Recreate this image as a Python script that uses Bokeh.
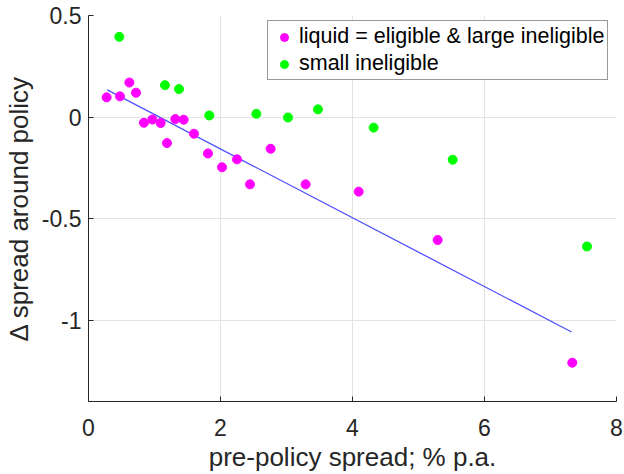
from bokeh.plotting import figure
from bokeh.models import Range1d, FixedTicker, Legend, LegendItem
from bokeh.embed import file_html
from bokeh.resources import INLINE

# magenta: liquid = eligible & large ineligible
liq_x = [0.275, 0.477, 0.619, 0.72, 0.84, 0.967, 1.093, 1.189, 1.316, 1.442,
         1.598, 1.81, 2.023, 2.25, 2.447, 2.76, 3.29, 4.094, 5.29, 7.33]
liq_y = [0.097, 0.102, 0.170, 0.120, -0.028, -0.012, -0.029, -0.128, -0.010, -0.013,
         -0.082, -0.179, -0.247, -0.208, -0.331, -0.156, -0.331, -0.367, -0.605, -1.209]
# green: small ineligible
sm_x = [0.467, 1.159, 1.371, 1.83, 2.543, 3.023, 3.477, 4.32, 5.518, 7.553]
sm_y = [0.395, 0.157, 0.138, 0.008, 0.016, -0.002, 0.038, -0.052, -0.210, -0.637]
# fitted line endpoints
fit_x = [0.285, 7.32]
fit_y = [0.134, -1.058]

x_ticks = [0, 2, 4, 6, 8]
y_ticks = [-1, -0.5, 0, 0.5]

FONT = "Liberation Sans"
TXT = "#262626"

p = figure(width=624, height=474, output_backend="svg", toolbar_location=None,
           x_range=Range1d(0, 8), y_range=Range1d(-1.4, 0.5),
           min_border_left=88, min_border_right=8, min_border_top=15, min_border_bottom=72)
p.outline_line_color = None
p.background_fill_color = "white"
p.border_fill_color = "white"

p.line(fit_x, fit_y, line_color="#5050ff", line_width=1.3)
r1 = p.scatter(liq_x, liq_y, size=9, fill_color="#ff00ff", line_color="#ff00ff")
r2 = p.scatter(sm_x, sm_y, size=9, fill_color="#00ff00", line_color="#00ff00")

for ax in (p.xaxis[0], p.yaxis[0]):
    ax.axis_line_color = TXT
    ax.major_tick_line_color = TXT
    ax.major_tick_in = 5
    ax.major_tick_out = 0
    ax.minor_tick_line_color = None
    ax.major_label_text_font = FONT
    ax.major_label_text_font_size = "23px"
    ax.major_label_text_color = TXT
    ax.axis_label_text_font = FONT
    ax.axis_label_text_font_size = "26px"
    ax.axis_label_text_color = TXT
    ax.axis_label_text_font_style = "normal"

p.xaxis.ticker = FixedTicker(ticks=x_ticks)
p.yaxis.ticker = FixedTicker(ticks=y_ticks)
p.yaxis.major_label_overrides = {-1: "-1", -0.5: "-0.5", 0: "0", 0.5: "0.5"}
p.xaxis.axis_label = "pre-policy spread; % p.a."
p.yaxis.axis_label = "\u0394 spread around policy"
p.xaxis.major_label_standoff = 17
p.yaxis.major_label_standoff = 7
p.xaxis.axis_label_standoff = 3
p.yaxis.axis_label_standoff = 5

p.xgrid.ticker = FixedTicker(ticks=x_ticks)
p.ygrid.ticker = FixedTicker(ticks=y_ticks)
p.grid.grid_line_color = "#e3e3e3"
p.grid.grid_line_width = 1

legend = Legend(items=[LegendItem(label="liquid = eligible & large ineligible", renderers=[r1]),
                       LegendItem(label="small ineligible", renderers=[r2])],
                location=(179, 321))
legend.label_text_font = FONT
legend.label_text_font_size = "21.5px"
legend.label_text_color = "black"
legend.border_line_color = "#333333"
legend.border_line_width = 1
legend.background_fill_alpha = 1
legend.padding = 3
legend.spacing = 2
legend.margin = 0
legend.label_standoff = 2
legend.glyph_width = 26
legend.glyph_height = 20
legend.label_height = 20
p.add_layout(legend, "center")

open("out.html", "w").write(file_html(p, INLINE))
